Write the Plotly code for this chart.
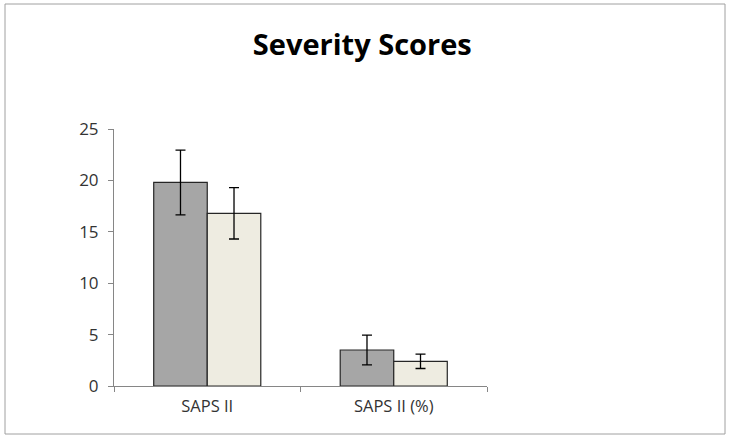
import plotly.graph_objects as go

categories = ["SAPS II", "SAPS II (%)"]
group1_values = [19.8, 3.5]
group1_errors = [3.15, 1.45]
group2_values = [16.8, 2.4]
group2_errors = [2.5, 0.7]
y_ticks = [0, 5, 10, 15, 20, 25]

L, R, T, B = 114, 242, 129, 54
W, H = 729, 440
pw, ph = W - L - R, H - T - B

fig = go.Figure()
fig.add_trace(go.Bar(
    x=categories, y=group1_values,
    marker=dict(color="#a6a6a6", line=dict(color="#262626", width=1.2)),
    error_y=dict(type="data", array=group1_errors, color="#000000", thickness=1.3, width=5),
))
fig.add_trace(go.Bar(
    x=categories, y=group2_values,
    marker=dict(color="#eeece1", line=dict(color="#262626", width=1.2)),
    error_y=dict(type="data", array=group2_errors, color="#000000", thickness=1.3, width=5),
))

fig.update_layout(
    width=W, height=H,
    margin=dict(l=L, r=R, t=T, b=B),
    paper_bgcolor="white", plot_bgcolor="white",
    barmode="group", bargap=0.426, bargroupgap=0,
    showlegend=False,
    title=dict(text="<b>Severity Scores</b>", x=0.497, xanchor="center", y=0.897, yanchor="middle",
               font=dict(family="Open Sans", size=29, color="#000000")),
    font=dict(family="Open Sans", size=16, color="#333333"),
    xaxis=dict(showline=True, linecolor="#868686", linewidth=1, ticks="outside", tickson="boundaries",
               ticklen=5, tickcolor="#868686", showgrid=False, tickfont=dict(size=16.5),
               ticklabelstandoff=5),
    yaxis=dict(range=[0, 25], tickvals=y_ticks, showline=True, linecolor="#868686", linewidth=1,
               ticks="outside", ticklen=5, tickcolor="#868686", showgrid=False, zeroline=False,
               tickfont=dict(size=17), ticklabelstandoff=6),
    shapes=[dict(type="rect", xref="paper", yref="paper",
                 x0=(5 - L) / pw, x1=(725 - L) / pw,
                 y0=((H - B) - 434) / ph, y1=((H - B) - 4) / ph,
                 line=dict(color="#a0a0a0", width=1), fillcolor="rgba(0,0,0,0)", layer="below")],
)

fig.write_html("out.html", config={"displayModeBar": False},
               post_script="document.body.style.margin='0';document.body.style.overflow='hidden';")
